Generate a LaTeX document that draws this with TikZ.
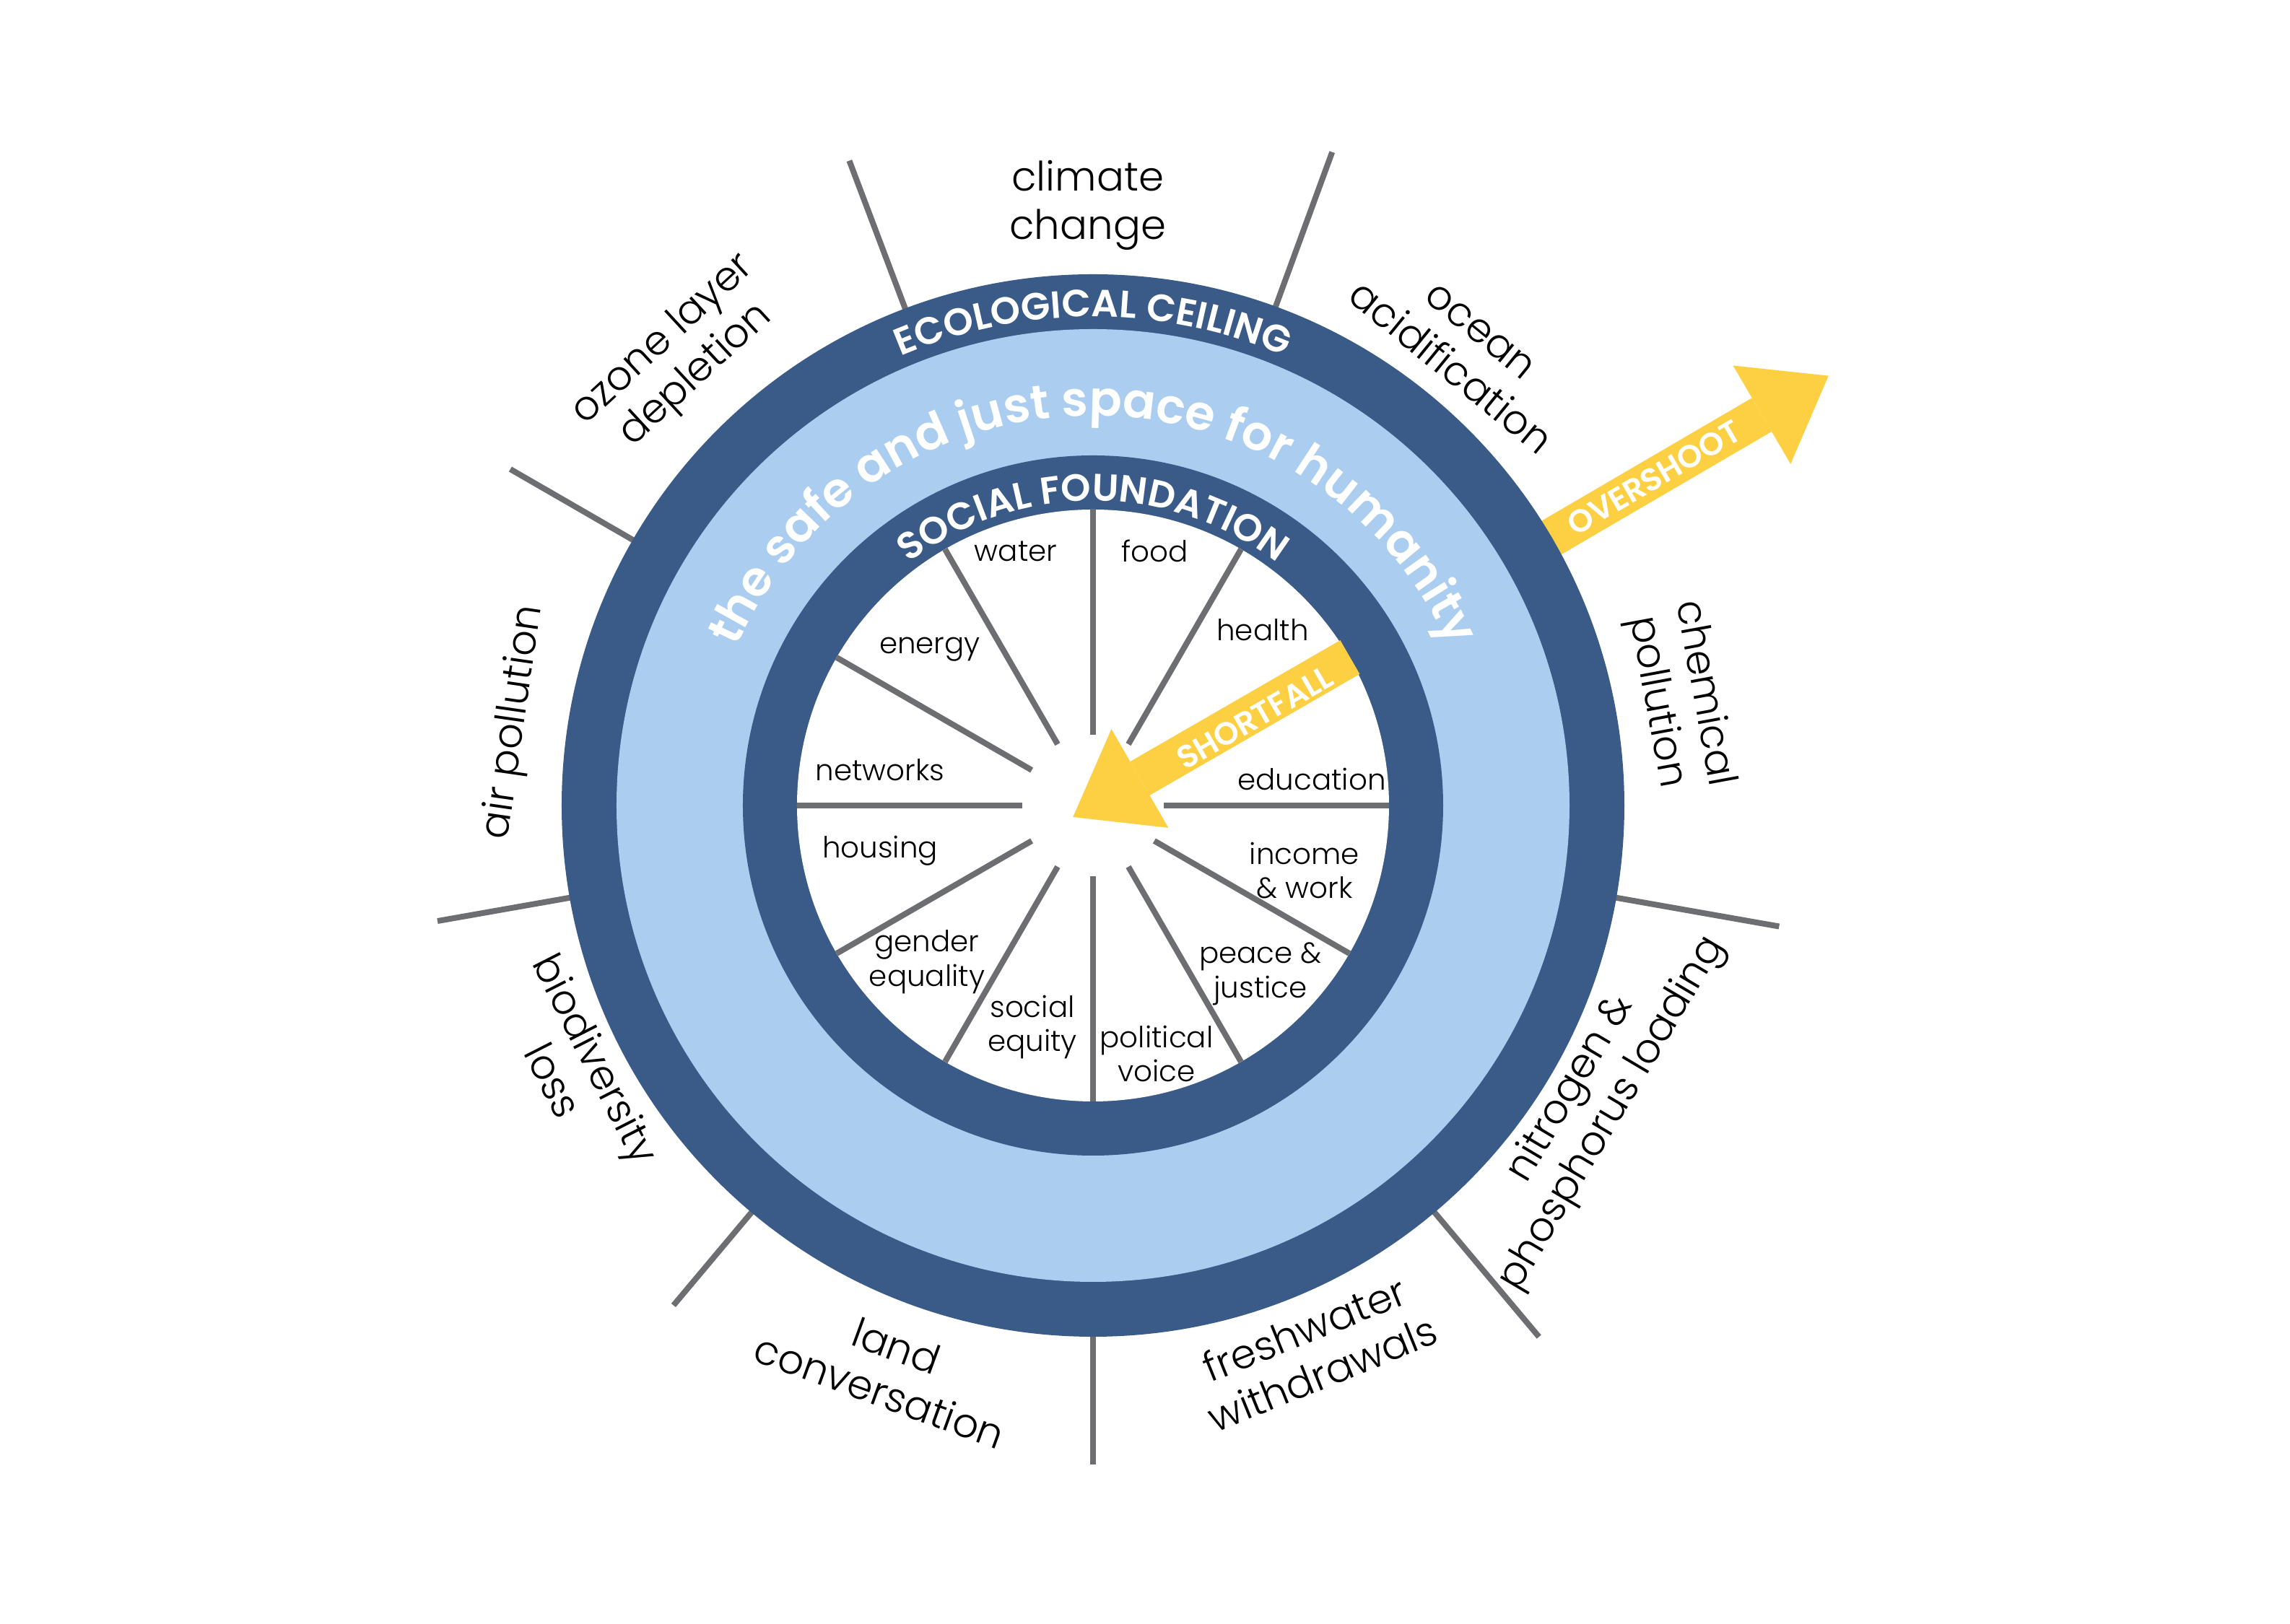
\documentclass[tikz,border=0pt]{standalone}
\usepackage{fontspec}
\setmainfont{Poppins}[UprightFont={* Light}, BoldFont={* SemiBold}]
\usetikzlibrary{arrows.meta,decorations.text}

\definecolor{ringblue}{HTML}{3A5A88}
\definecolor{spaceblue}{HTML}{ABCEF0}
\definecolor{spokegray}{HTML}{6D6E71}
\definecolor{flagyellow}{HTML}{FDD044}

\begin{document}
\begin{tikzpicture}[
        spoke/.style={draw=spokegray, line width=0.08cm},
        bigarrow/.style={draw=flagyellow, line width=0.54cm, -{Triangle[length=1.07cm, width=1.58cm, line width=0pt]}},
        boundary/.style={font=\fontsize{16}{19}\selectfont, align=center},
        dimension/.style={font=\fontsize{11.5}{13.6}\selectfont, align=center},
        arrowlabel/.style={font=\fontsize{12.5}{14}\selectfont\bfseries, text=white}
    ]
        \useasboundingbox (-15.14,-11.34) rectangle (16.58,11.16);

        % Overshoot arrow (starts under the rings)
        \draw[bigarrow] (30.3:7.0) -- (30.3:11.80);
        \node[arrowlabel, rotate=30.3] (overshoot) at (30.3:9.0) {OVERSHOOT};

        % Ceiling dividers
        \foreach \ang/\len in {69.9/9.64, 110.7/9.55, 150/9.32, 190/9.22, 230/9.04, 270/9.13, 310/9.61, 350/9.65} {
            \draw[spoke] (\ang:7.2) -- (\ang:\len);
        }

        % Doughnut
        \fill[ringblue] (0,0) circle (7.36);
        \fill[spaceblue] (0,0) circle (6.60);
        \fill[ringblue] (0,0) circle (4.85);
        \fill[white] (0,0) circle (4.10);

        % Foundation spokes
        \foreach \ang in {0,60,90,120,150,180,210,240,270,300,330} {
            \draw[spoke] (\ang:0.98) -- (\ang:4.10);
        }

        % Ring texts
        \path[decorate, decoration={text along path, text align=center,
            text={|\color{white}\fontsize{15}{17}\selectfont\bfseries|ECOLOGICAL CEILING}}]
            (150:6.77) arc[start angle=150, end angle=30, radius=6.77];
        \path[decorate, decoration={text along path, text align=center,
            text={|\color{white}\fontsize{19}{22}\selectfont\bfseries|the safe and just space for humanity}}]
            (178:5.40) arc[start angle=178, end angle=2, radius=5.40];
        \path[decorate, decoration={text along path, text align=center,
            text={|\color{white}\fontsize{15}{17}\selectfont\bfseries|SOCIAL FOUNDATION}}]
            (175:4.22) arc[start angle=175, end angle=5, radius=4.22];

        % Shortfall arrow
        \draw[bigarrow] (30:4.11) -- (210:0.32);
        \node[arrowlabel, rotate=30] (shortfall) at (28.5:2.55) {SHORTFALL};

        % Social foundation
        \node[dimension] (water) at (-1.07, 3.52) {water};
        \node[dimension] (food) at (0.86, 3.53) {food};
        \node[dimension] (health) at (2.35, 2.43) {health};
        \node[dimension] (energy) at (-2.26, 2.16) {energy};
        \node[dimension] (networks) at (-2.95, 0.49) {networks};
        \node[dimension] (education) at (3.03, 0.36) {education};
        \node[dimension] (housing) at (-2.95, -0.63) {housing};
        \node[dimension] (income) at (2.93, -0.90) {income\\\& work};
        \node[dimension] (gender) at (-2.30, -2.17) {gender\\equality};
        \node[dimension] (peace) at (2.32, -2.33) {peace \&\\justice};
        \node[dimension] (equity) at (-0.84, -3.07) {social\\equity};
        \node[dimension] (voice) at (0.88, -3.44) {political\\voice};

        % Ecological ceiling
        \node[boundary] (climate) at (90.5:8.32) {climate\\change};
        \node[boundary, rotate=-39.2] (ocean) at (50.8:8.14) {ocean\\acidification};
        \node[boundary, rotate=-79.6] (chemical) at (10.4:8.26) {chemical\\pollution};
        \node[boundary, rotate=59.3] (nitrogen) at (-30.7:8.04) {nitrogen \&\\phosphorus loading};
        \node[boundary, rotate=22] (freshwater) at (-68:8.15) {freshwater\\withdrawals};
        \node[boundary, rotate=-20] (land) at (250:8.30) {land\\conversation};
        \node[boundary, rotate=-63] (biodiversity) at (207:8.05) {biodiversity\\loss};
        \node[boundary, rotate=81.8] (air) at (171.8:8.10) {air pollution};
        \node[boundary, rotate=42.7] (ozone) at (132.7:8.44) {ozone layer\\depletion};
    \end{tikzpicture}
\end{document}
